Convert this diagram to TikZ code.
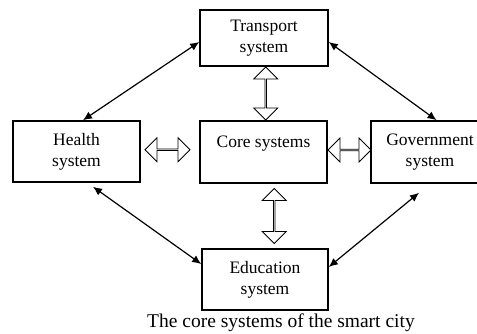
\documentclass[tikz,border=0pt]{standalone}
\usepackage{fontspec}
\setmainfont{Liberation Serif}
\usetikzlibrary{calc,shapes.arrows,arrows.meta}

\begin{document}
\begin{tikzpicture}[x=1pt,y=1pt,
    sys/.style={rectangle, draw, line width=1.6pt, align=center, inner sep=0pt,
      font=\fontsize{17.5}{21}\selectfont},
    dblarrow/.style={double arrow, draw, line width=0.8pt, fill=white, inner sep=0pt,
      minimum width=24pt, double arrow head extend=6pt, double arrow head indent=0pt},
    link/.style={<->, line width=1.2pt},
    >={Latex[length=9pt,width=8pt]}]

  \clip (0,0) rectangle (477,334);

  \node[sys, minimum width=128pt, minimum height=56pt] (T) at (264,296) {Transport\\system};
  \node[sys, minimum width=127pt, minimum height=61pt] (H) at (76.5,182.5) {Health\\system};
  \node[sys, minimum width=127pt, minimum height=62pt] (C) at (263.5,182) {Core systems\\\mbox{}};
  \node[sys, minimum width=118pt, minimum height=62pt] (G) at (430,182) {Government\\system};
  \node[sys, minimum width=126pt, minimum height=61pt] (E) at (265,54.5) {Education\\system};
  \node[font=\fontsize{19.5}{22}\selectfont] (cap) at (281,11) {The core systems of the smart city};

  \draw[link] ([xshift=6.5pt]H.north) -- ([yshift=-4pt]T.west);
  \draw[link] ([yshift=-4pt]T.east) -- ([xshift=6.5pt]G.north);
  \draw[link] ($(H.south)+(16.5,-4)$) -- ([yshift=15.5pt]E.west);
  \draw[link] ($(G.south)+(-11,-9)$) -- ([yshift=12.5pt]E.east);

  \node[dblarrow, rotate=90, minimum height=53pt] (tc) at ($(T.south)!0.5!(C.north)+(2,0)$) {};
  \node[dblarrow, rotate=90, minimum height=55pt] (ce) at ($(C.south)!0.5!(E.north)+(10,0)$) {};
  \node[dblarrow, minimum height=45pt] (hc) at ($(H.east)!0.5!(C.west)+(-2.5,2)$) {};
  \node[dblarrow, minimum height=43pt] (cg) at ($(C.east)!0.5!(G.west)+(0.5,2)$) {};
\end{tikzpicture}
\end{document}
